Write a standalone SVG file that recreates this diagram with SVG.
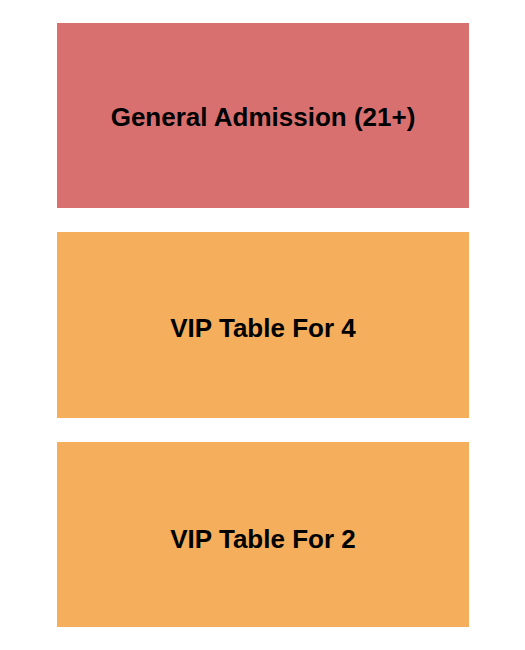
<svg xmlns="http://www.w3.org/2000/svg" width="525" height="650" viewBox="0 0 525 650">
<style>
.sec{stroke:none}
.ga{fill:#D97070}
.vip{fill:#F5AE5B}
.lbl{font-family:"Liberation Sans",Arial,sans-serif;font-weight:bold;font-size:26px;fill:#000;text-anchor:middle}
</style>
<rect width="525" height="650" fill="#FFFFFF"/>
<g id="general-admission">
<rect class="sec ga" x="57" y="23" width="412" height="185"/>
<text class="lbl" x="263" y="125.5">General Admission (21+)</text>
</g>
<g id="vip-table-4">
<rect class="sec vip" x="57" y="232" width="412" height="186"/>
<text class="lbl" x="263" y="336.5">VIP Table For 4</text>
</g>
<g id="vip-table-2">
<rect class="sec vip" x="57" y="442" width="412" height="185"/>
<text class="lbl" x="263" y="548">VIP Table For 2</text>
</g>
<g id="connectors"/>
</svg>
